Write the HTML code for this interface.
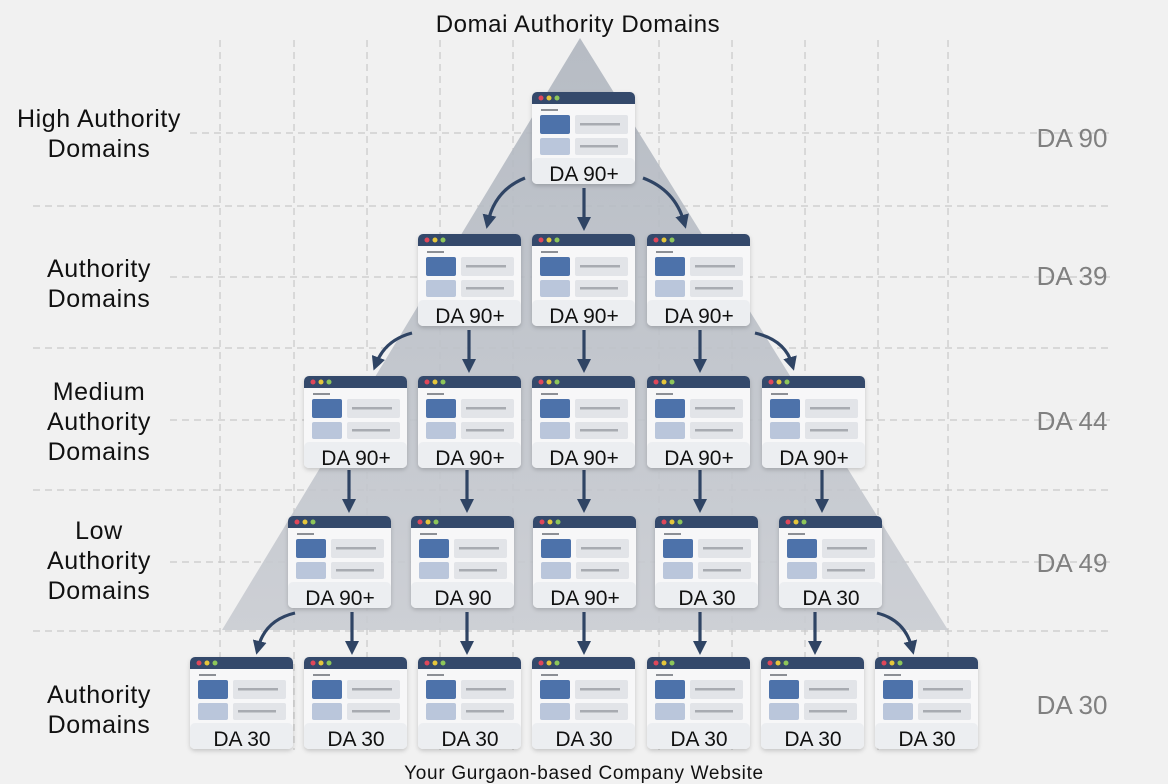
<!DOCTYPE html>
<html><head><meta charset="utf-8"><style>
html,body{margin:0;padding:0;background:#f1f1f1;}
svg{display:block;font-family:"Liberation Sans",sans-serif;}
</style></head><body>
<svg width="1168" height="784" viewBox="0 0 1168 784" xmlns="http://www.w3.org/2000/svg">
<defs>
<linearGradient id="tri" x1="0" y1="0" x2="0" y2="1">
<stop offset="0" stop-color="#b0b6bf"/><stop offset="1" stop-color="#c9ccd2"/>
</linearGradient>
<filter id="sh" x="-10%" y="-10%" width="120%" height="130%"><feDropShadow dx="0" dy="2" stdDeviation="2" flood-color="#000" flood-opacity="0.18"/></filter>
<marker id="ah" markerWidth="14" markerHeight="14" refX="6" refY="6" orient="auto" markerUnits="userSpaceOnUse" viewBox="0 0 12 12"><path d="M0,0 L12,6 L0,12 z" fill="#2f4464"/></marker>
<g id="card">
<rect x="0" y="0" width="103" height="92" rx="5" fill="#f7f7f8" filter="url(#sh)"/>
<rect x="0" y="66" width="103" height="26" rx="5" fill="#eceef1"/>
<path d="M0,12 V5 a5,5 0 0 1 5,-5 H98 a5,5 0 0 1 5,5 V12 z" fill="#34496b"/>
<circle cx="9" cy="6" r="2.5" fill="#e0475a"/><circle cx="17" cy="6" r="2.5" fill="#e5c63b"/><circle cx="25" cy="6" r="2.5" fill="#8dc65a"/>
<rect x="9" y="17" width="17" height="2" fill="#8c8f95"/>
<rect x="8" y="23" width="30" height="19" rx="2" fill="#4d72aa"/>
<rect x="43" y="23" width="53" height="19" rx="2" fill="#e2e4e8"/>
<rect x="48" y="31" width="40" height="2.5" fill="#a8abb1"/>
<rect x="8" y="46" width="30" height="17" rx="2" fill="#bac6db"/>
<rect x="43" y="46" width="53" height="17" rx="2" fill="#e2e4e8"/>
<rect x="48" y="53" width="38" height="2.5" fill="#a8abb1"/>
</g>
</defs>
<g stroke="#c9c9c9" stroke-width="1.2" stroke-dasharray="7,5">
<line x1="220" y1="40" x2="220" y2="750"/><line x1="294" y1="40" x2="294" y2="750"/>
<line x1="367" y1="40" x2="367" y2="750"/><line x1="440" y1="40" x2="440" y2="750"/>
<line x1="513" y1="40" x2="513" y2="750"/><line x1="659" y1="40" x2="659" y2="750"/>
<line x1="732" y1="40" x2="732" y2="750"/><line x1="805" y1="40" x2="805" y2="750"/>
<line x1="878" y1="40" x2="878" y2="750"/><line x1="948" y1="40" x2="948" y2="750"/>
<line x1="190" y1="133" x2="1110" y2="133"/><line x1="33" y1="206" x2="1110" y2="206"/>
<line x1="170" y1="277" x2="1110" y2="277"/><line x1="33" y1="348" x2="1110" y2="348"/>
<line x1="170" y1="420" x2="1110" y2="420"/><line x1="33" y1="490" x2="1110" y2="490"/>
<line x1="170" y1="562" x2="1110" y2="562"/><line x1="33" y1="631" x2="1110" y2="631"/>
</g>
<polygon points="580,38 222,630 948,630" fill="url(#tri)" opacity="0.9"/>

<text x="578" y="32" font-size="24" letter-spacing="0.6" text-anchor="middle" fill="#111">Domai Authority Domains</text>
<g font-size="25" letter-spacing="0.6" fill="#111" text-anchor="middle">
<text x="99" y="127">High Authority</text><text x="99" y="157">Domains</text>
<text x="99" y="277">Authority</text><text x="99" y="307">Domains</text>
<text x="99" y="400">Medium</text><text x="99" y="430">Authority</text><text x="99" y="460">Domains</text>
<text x="99" y="539">Low</text><text x="99" y="569">Authority</text><text x="99" y="599">Domains</text>
<text x="99" y="703">Authority</text><text x="99" y="733">Domains</text>
</g>
<g font-size="26" fill="#808080" text-anchor="middle">
<text x="1072" y="147">DA 90</text><text x="1072" y="285">DA 39</text>
<text x="1072" y="430">DA 44</text><text x="1072" y="572">DA 49</text><text x="1072" y="714">DA 30</text>
</g>
<text x="584" y="779" font-size="19" letter-spacing="0.7" text-anchor="middle" fill="#111">Your Gurgaon-based Company Website</text>

<g stroke="#2f4464" stroke-width="3.2" fill="none" marker-end="url(#ah)">
<path d="M525,178 Q495,190 488,222"/><line x1="584" y1="188" x2="584" y2="224"/><path d="M643,178 Q675,190 684,222"/>
<path d="M412,333 Q385,340 376,364"/><line x1="469" y1="330" x2="469" y2="366"/><line x1="584" y1="330" x2="584" y2="366"/><line x1="700" y1="330" x2="700" y2="366"/><path d="M755,333 Q785,340 792,364"/>
<line x1="349" y1="470" x2="349" y2="506"/><line x1="467" y1="470" x2="467" y2="506"/><line x1="584" y1="470" x2="584" y2="506"/><line x1="700" y1="470" x2="700" y2="506"/><line x1="822" y1="470" x2="822" y2="506"/>
<path d="M295,613 Q265,620 258,648"/><line x1="352" y1="612" x2="352" y2="648"/><line x1="467" y1="612" x2="467" y2="648"/><line x1="584" y1="612" x2="584" y2="648"/><line x1="700" y1="612" x2="700" y2="648"/><line x1="815" y1="612" x2="815" y2="648"/><path d="M877,613 Q905,620 912,648"/>
</g>

<g>
<use href="#card" x="532" y="92"/>
<use href="#card" x="418" y="234"/><use href="#card" x="532" y="234"/><use href="#card" x="647" y="234"/>
<use href="#card" x="304" y="376"/><use href="#card" x="418" y="376"/><use href="#card" x="532" y="376"/><use href="#card" x="647" y="376"/><use href="#card" x="762" y="376"/>
<use href="#card" x="288" y="516"/><use href="#card" x="411" y="516"/><use href="#card" x="533" y="516"/><use href="#card" x="655" y="516"/><use href="#card" x="779" y="516"/>
<use href="#card" x="190" y="657"/><use href="#card" x="304" y="657"/><use href="#card" x="418" y="657"/><use href="#card" x="532" y="657"/><use href="#card" x="647" y="657"/><use href="#card" x="761" y="657"/><use href="#card" x="875" y="657"/>
</g>
<g font-size="21" fill="#111" text-anchor="middle">
<text x="584" y="181">DA 90+</text>
<text x="470" y="323">DA 90+</text><text x="584" y="323">DA 90+</text><text x="699" y="323">DA 90+</text>
<text x="356" y="465">DA 90+</text><text x="470" y="465">DA 90+</text><text x="584" y="465">DA 90+</text><text x="699" y="465">DA 90+</text><text x="814" y="465">DA 90+</text>
<text x="340" y="605">DA 90+</text><text x="463" y="605">DA 90</text><text x="585" y="605">DA 90+</text><text x="707" y="605">DA 30</text><text x="831" y="605">DA 30</text>
<text x="242" y="746">DA 30</text><text x="356" y="746">DA 30</text><text x="470" y="746">DA 30</text><text x="584" y="746">DA 30</text><text x="699" y="746">DA 30</text><text x="813" y="746">DA 30</text><text x="927" y="746">DA 30</text>
</g>
</svg>
</body></html>
